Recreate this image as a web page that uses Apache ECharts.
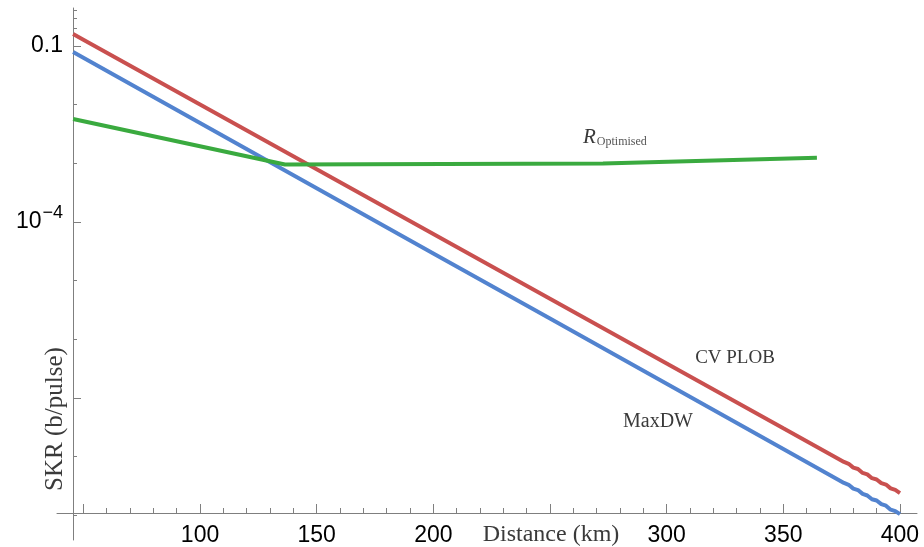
<!DOCTYPE html>
<html>
<head>
<meta charset="utf-8">
<script src="https://cdn.jsdelivr.net/npm/echarts@6/dist/echarts.min.js"></script>
<style>html,body{margin:0;padding:0;background:#fff}#c{width:924px;height:547px}</style>
</head>
<body>
<div id="c"></div>
<script>
// ---- data (distance in km, SKR in bits/pulse) ----
const plobDist = [45.6, 50, 100, 150, 200, 250, 300, 350, 376, 378, 380, 382, 384, 386, 388, 390, 392, 394, 396, 398, 400];
const plobSkr  = [0.160, 0.128, 0.0101, 7.94e-4, 6.25e-5, 4.93e-6, 3.88e-7, 3.05e-8, 8.14e-9, 7.56e-9, 6.52e-9, 6.17e-9, 5.29e-9, 4.99e-9, 4.30e-9, 4.09e-9, 3.54e-9, 3.35e-9, 2.88e-9, 2.71e-9, 2.40e-9];
const maxdwDist = [45.6, 50, 100, 150, 200, 250, 300, 350, 376, 378, 380, 382, 384, 386, 388, 390, 392, 394, 396, 398, 400];
const maxdwSkr  = [0.0791, 0.0631, 4.89e-3, 3.78e-4, 2.92e-5, 2.26e-6, 1.75e-7, 1.35e-8, 3.57e-9, 3.32e-9, 2.86e-9, 2.70e-9, 2.32e-9, 2.18e-9, 1.88e-9, 1.79e-9, 1.55e-9, 1.46e-9, 1.25e-9, 1.18e-9, 1.05e-9];
const optDist = [45.6, 136.4, 272.7, 364.4];
const optSkr  = [5.70e-3, 9.55e-4, 9.9e-4, 1.25e-3];

const xMajorTicks = [50, 100, 150, 200, 250, 300, 350, 400];
const xMinorTicks = [60, 70, 80, 90, 110, 120, 130, 140, 160, 170, 180, 190, 210, 220, 230, 240, 260, 270, 280, 290, 310, 320, 330, 340, 360, 370, 380, 390];
const xTickLabels = [100, 150, 200, 300, 350, 400];
const yMajorTicks = [0.1, 1e-4, 1e-7];
const yMinorTicks = [0.4, 0.3, 0.2, 1e-2, 1e-3, 1e-5, 1e-6, 1e-8, 1e-9];
const yTickLabels = [0.1, 1e-4];

const xRange = [38.7, 407.3];
const yRange = [3.8e-10, 0.445];

// ---- build ----
const L = v => Math.log10(v);
const pairs = (xs, ys) => xs.map((x, i) => [x, L(ys[i])]);

const axisGray = '#7f7f7f';
const yLabelFmt = v => {
  const e = Math.round(v);
  if (Math.abs(v - e) > 1e-6) return '';
  if (e === -1) return '{n|0.1}';
  return '{n|10}{s|\u2212' + (-e) + '}';
};

const chart = echarts.init(document.getElementById('c'), null, {renderer: 'canvas'});
chart.setOption({
  animation: false,
  backgroundColor: '#fff',
  grid: {left: 57, right: 924 - 917, top: 8, bottom: 547 - 540, containLabel: false},
  xAxis: [
    {
      type: 'value', min: xRange[0], max: xRange[1], position: 'bottom', offset: -27,
      axisLine: {show: true, lineStyle: {color: axisGray, width: 1}},
      axisTick: {show: true, inside: true, length: 9, lineStyle: {color: axisGray}, customValues: xMajorTicks},
      axisLabel: {show: true, customValues: xTickLabels, margin: 11, color: '#000', fontSize: 23, fontFamily: 'Liberation Sans'},
      splitLine: {show: false}
    },
    {
      type: 'value', min: xRange[0], max: xRange[1], position: 'bottom', offset: -27,
      axisLine: {show: false},
      axisTick: {show: true, inside: true, length: 5, lineStyle: {color: axisGray}, customValues: xMinorTicks},
      axisLabel: {show: false},
      splitLine: {show: false}
    }
  ],
  yAxis: [
    {
      type: 'value', min: L(yRange[0]), max: L(yRange[1]), position: 'left', offset: -16,
      axisLine: {show: true, lineStyle: {color: axisGray, width: 1}},
      axisTick: {show: true, inside: true, length: 8, lineStyle: {color: axisGray}, customValues: yMajorTicks.map(L)},
      axisLabel: {
        show: true, customValues: yTickLabels.map(L), margin: 10, formatter: yLabelFmt,
        rich: {
          n: {fontSize: 23, fontFamily: 'Liberation Sans', color: '#000'},
          s: {fontSize: 18, fontFamily: 'Liberation Sans', color: '#000', padding: [0, 0, 17, 1]}
        }
      },
      splitLine: {show: false}
    },
    {
      type: 'value', min: L(yRange[0]), max: L(yRange[1]), position: 'left', offset: -16,
      axisLine: {show: false},
      axisTick: {show: true, inside: true, length: 4, lineStyle: {color: axisGray}, customValues: yMinorTicks.map(L)},
      axisLabel: {show: false},
      splitLine: {show: false}
    }
  ],
  series: [
    {name: 'MaxDW', type: 'line', xAxisIndex: 0, yAxisIndex: 0, data: pairs(maxdwDist, maxdwSkr), symbol: 'none',
     lineStyle: {color: '#5283cf', width: 4}, z: 2},
    {name: 'CV PLOB', type: 'line', xAxisIndex: 0, yAxisIndex: 0, data: pairs(plobDist, plobSkr), symbol: 'none',
     lineStyle: {color: '#c9504f', width: 4}, z: 3},
    {name: 'R_Optimised', type: 'line', xAxisIndex: 0, yAxisIndex: 0, data: pairs(optDist, optSkr), symbol: 'none',
     lineStyle: {color: '#3aaa3f', width: 4}, z: 4}
  ],
  graphic: [
    {type: 'text', x: 551, y: 535, style: {text: 'Distance (km)', font: '24px "Liberation Serif"', fill: '#3a3a3a', align: 'center', verticalAlign: 'middle'}},
    {type: 'text', x: 55, y: 419, rotation: Math.PI / 2, style: {text: 'SKR (b/pulse)', font: '25px "Liberation Serif"', fill: '#3a3a3a', align: 'center', verticalAlign: 'middle'}},
    {type: 'text', x: 735, y: 358, style: {text: 'CV PLOB', font: '19px "Liberation Serif"', fill: '#3a3a3a', align: 'center', verticalAlign: 'middle'}},
    {type: 'text', x: 658, y: 422, style: {text: 'MaxDW', font: '20px "Liberation Serif"', fill: '#3a3a3a', align: 'center', verticalAlign: 'middle'}},
    {type: 'text', x: 583, y: 137, style: {
      text: '{r|R}{o|Optimised}', align: 'left', verticalAlign: 'middle',
      rich: {
        r: {font: 'italic 21px "Liberation Serif"', fill: '#3a3a3a'},
        o: {font: '12px "Liberation Serif"', fill: '#555', padding: [10, 0, 0, 1]}
      }
    }}
  ]
});
</script>
</body>
</html>
